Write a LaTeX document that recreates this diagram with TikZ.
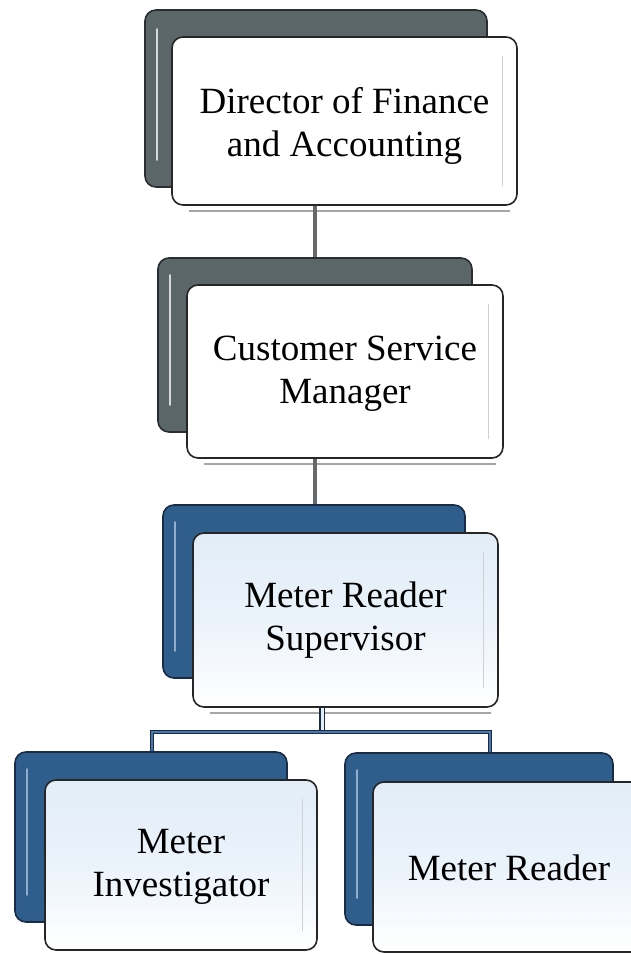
\documentclass[tikz,border=0pt]{standalone}
\usepackage{fontspec}
\setmainfont{Liberation Serif}
\usetikzlibrary{calc}
\definecolor{slate}{HTML}{5B6668}
\definecolor{slateedge}{HTML}{2A2E30}
\definecolor{navyfill}{HTML}{2F5D8C}
\definecolor{navyedge}{HTML}{1A2C45}
\definecolor{paleblue}{HTML}{E2EDF8}
\definecolor{linegray}{HTML}{666869}
\definecolor{barblue}{HTML}{4A78AA}
\tikzset{
  backgray/.style={draw=slateedge, line width=1.6pt, fill=slate, rounded corners=11pt},
  backblue/.style={draw=navyedge, line width=1.6pt, fill=navyfill, rounded corners=11pt},
  frontwhite/.style={draw=black!85, line width=1.6pt, fill=white, rounded corners=11pt},
  frontblue/.style={draw=black!85, line width=1.6pt, rounded corners=11pt,
    top color=paleblue, bottom color=white, middle color=paleblue!70},
  boxtext/.style={align=center, font=\fontsize{37}{43}\selectfont},
  hlgray/.style={white!75!slate, line width=2.2pt, line cap=round},
  hlblue/.style={barblue!60!white, line width=2.2pt, line cap=round},
  innerline/.style={black!18, line width=1.2pt},
  shadowline/.style={black!35, line width=2.5pt},
  grayconn/.style={linegray, line width=3.2pt},
  blueconn/.style={draw=navyedge, double=barblue, double distance=1.8pt, line width=1.4pt},
  trunk/.style={draw=navyedge, double=paleblue, double distance=3pt, line width=1.6pt},
}
\begin{document}
\begin{tikzpicture}[x=1pt,y=-1pt]
\useasboundingbox[fill=white] (0,0) rectangle (630,954);

% ---------- box 1 ----------
\node[backgray, minimum width=342pt, minimum height=177pt] (b1) at (316,98.5) {};
\draw[hlgray] ($(b1.north west)+(13,20)$) -- ($(b1.south west)+(13,-28)$);
\node[frontwhite, minimum width=345pt, minimum height=168pt] (f1) at (344.5,121) {};
\node[boxtext] (t1) at ($(f1.center)+(0,5)$) {Director of Finance\\and Accounting};
\draw[innerline] ($(f1.north east)+(-15,20)$) -- ($(f1.south east)+(-15,-20)$);
\draw[shadowline] ($(f1.south west)+(18,5)$) -- ($(f1.south east)+(-8,5)$);

% ---------- box 2 ----------
\node[backgray, minimum width=314pt, minimum height=174pt] (b2) at (315,345) {};
\draw[hlgray] ($(b2.north west)+(13,18)$) -- ($(b2.south west)+(13,-28)$);
\node[frontwhite, minimum width=316pt, minimum height=173pt] (f2) at (345,371.5) {};
\node[boxtext] (t2) at ($(f2.center)+(0,2)$) {Customer Service\\Manager};
\draw[innerline] ($(f2.north east)+(-15,20)$) -- ($(f2.south east)+(-15,-20)$);
\draw[shadowline] ($(f2.south west)+(18,5)$) -- ($(f2.south east)+(-8,5)$);

% ---------- box 3 ----------
\node[backblue, minimum width=302pt, minimum height=173pt] (b3) at (314,591.5) {};
\draw[hlblue] ($(b3.north west)+(13,18)$) -- ($(b3.south west)+(13,-28)$);
\node[frontblue, minimum width=305pt, minimum height=174pt] (f3) at (345.5,620) {};
\node[boxtext] (t3) at (f3.center) {Meter Reader\\Supervisor};
\draw[innerline] ($(f3.north east)+(-15,20)$) -- ($(f3.south east)+(-15,-20)$);
\draw[shadowline] ($(f3.south west)+(18,5)$) -- ($(f3.south east)+(-8,5)$);

% ---------- box 4 ----------
\node[backblue, minimum width=272pt, minimum height=170pt] (b4) at (151,837) {};
\draw[hlblue] ($(b4.north west)+(13,18)$) -- ($(b4.south west)+(13,-28)$);
\node[frontblue, minimum width=272pt, minimum height=170pt] (f4) at (181,865) {};
\node[boxtext] (t4) at ($(f4.center)+(0,2)$) {Meter\\Investigator};
\draw[innerline] ($(f4.north east)+(-15,20)$) -- ($(f4.south east)+(-15,-20)$);

% ---------- box 5 ----------
\node[backblue, minimum width=268pt, minimum height=172pt] (b5) at (479,839) {};
\draw[hlblue] ($(b5.north west)+(13,18)$) -- ($(b5.south west)+(13,-28)$);
\node[frontblue, minimum width=272pt, minimum height=170pt] (f5) at (509,867) {};
\node[boxtext] (t5) at ($(f5.center)+(0,1)$) {Meter Reader};

% ---------- connectors ----------
\draw[grayconn] (b2.north |- f1.south) -- (b2.north);
\draw[grayconn] (b2.north |- f2.south) -- (b2.north |- b3.north);

\coordinate (jM) at (322,732);
\coordinate (jL) at (152,732);
\coordinate (jR) at (490,732);
\draw[trunk] (jM |- f3.south) -- (jM);
\draw[blueconn] (b4.north -| jL) -- (jL) -- (jR) -- (b5.north -| jR);
\end{tikzpicture}
\end{document}
